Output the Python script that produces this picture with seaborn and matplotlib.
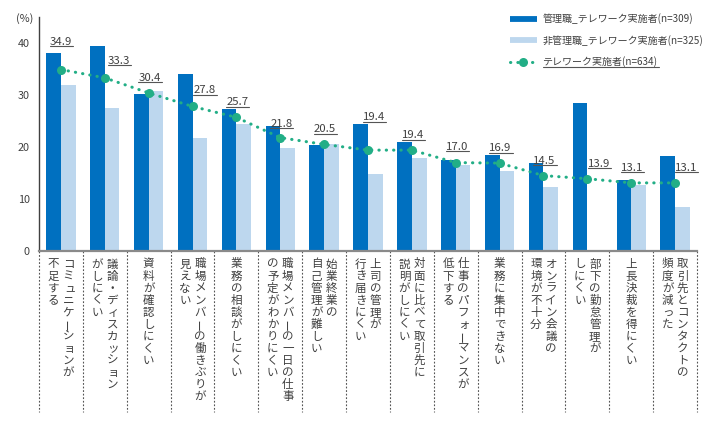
import matplotlib
matplotlib.use("Agg")
import matplotlib.pyplot as plt
import matplotlib.transforms as mtransforms
from matplotlib.lines import Line2D
import numpy as np
import pandas as pd
import seaborn as sns

# ---------------- data ----------------
categories = [
    "コミュニケーションが\n不足する",
    "議論・ディスカッション\nがしにくい",
    "資料が確認しにくい",
    "職場メンバーの働きぶりが\n見えない",
    "業務の相談がしにくい",
    "職場メンバーの一日の仕事\nの予定がわかりにくい",
    "始業終業の\n自己管理が難しい",
    "上司の管理が\n行き届きにくい",
    "対面に比べて取引先に\n説明がしにくい",
    "仕事のパフォーマンスが\n低下する",
    "業務に集中できない",
    "オンライン会議の\n環境が不十分",
    "部下の勤怠管理が\nしにくい",
    "上長決裁を得にくい",
    "取引先とコンタクトの\n頻度が減った",
]
manager = [38.0, 39.5, 30.2, 34.0, 27.3, 24.0, 20.4, 24.4, 21.0, 17.5, 18.5, 16.9, 28.5, 13.7, 18.2]
non_manager = [32.0, 27.5, 30.8, 21.8, 24.4, 19.9, 20.5, 14.8, 17.8, 16.6, 15.4, 12.3, np.nan, 12.7, 8.4]
overall = [34.9, 33.3, 30.4, 27.8, 25.7, 21.8, 20.5, 19.4, 19.4, 17.0, 16.9, 14.5, 13.9, 13.1, 13.1]
series_names = ["管理職_テレワーク実施者(n=309)", "非管理職_テレワーク実施者(n=325)", "テレワーク実施者(n=634)"]
y_ticks = [0, 10, 20, 30, 40]
y_unit = "(%)"

# ---------------- style ----------------
DARK = "#0070C0"
LIGHT = "#BDD7EE"
GREEN = "#22AE86"
TXT = "#404040"

sns.set_theme(style="white")
plt.rcParams["font.family"] = ["Noto Sans CJK JP", "DejaVu Sans"]

W, H = 720, 425
fig = plt.figure(figsize=(W / 100, H / 100), dpi=100)
ax_left, ax_right, ax_top, ax_bottom = 39, 697, 17, 251
ax = fig.add_axes([ax_left / W, 1 - ax_bottom / H, (ax_right - ax_left) / W, (ax_bottom - ax_top) / H])

df = pd.DataFrame({
    "category": categories * 2,
    "group": [series_names[0]] * len(categories) + [series_names[1]] * len(categories),
    "value": manager + non_manager,
})
sns.barplot(data=df, x="category", y="value", hue="group", order=categories,
            hue_order=series_names[:2], palette=[DARK, LIGHT], width=0.67,
            saturation=1, errorbar=None, legend=False, linewidth=0, ax=ax)

xpos = np.arange(len(categories))
ax.plot(xpos, overall, color=GREEN, lw=2.2, ls=(0, (0.1, 2.3)), dash_capstyle="round",
        marker="o", markersize=6.5, markeredgewidth=0, zorder=5)

ax.set_xlim(-0.5, len(categories) - 0.5)
ax.set_ylim(0, 45)
ax.set_yticks(y_ticks)
ax.set_yticklabels([str(t) for t in y_ticks], fontsize=7.8, color=TXT)
ax.set_xticks(xpos)
ax.set_xticklabels([])
ax.tick_params(axis="both", length=0)
ax.tick_params(axis="y", pad=6.5)
ax.set_xlabel("")
ax.set_ylabel("")
for s in ["top", "right"]:
    ax.spines[s].set_visible(False)
ax.spines["left"].set_color("#404040")
ax.spines["left"].set_linewidth(1.0)
ax.spines["bottom"].set_color("#8a8a8a")
ax.spines["bottom"].set_linewidth(1.6)
ax.grid(False)

# unit label
fig.text(25 / W, 1 - 19 / H, y_unit, ha="center", va="center", fontsize=7.8, color=TXT)

# separators below the axis
blend = mtransforms.blended_transform_factory(ax.transData, ax.transAxes)
sep_bottom = (ax_bottom - 412) / (ax_bottom - ax_top)
for b in np.arange(-0.5, len(categories), 1.0):
    ax.plot([b, b], [0, sep_bottom], transform=blend, color="#555555", lw=0.8,
            ls=(0, (1.6, 1.6)), clip_on=False)

# vertical category labels
SMALL = set("ァィゥェォャュョッ")
PX = 0.72  # points per pixel
for i, cat in enumerate(categories):
    lines = cat.split("\n")
    offs = [0.0] if len(lines) == 1 else [7.5, -7.5]
    for j, line in enumerate(lines):
        for k, ch in enumerate(line):
            ypx = 264 + 12.05 * k - ax_bottom
            dx = offs[j] + (1.2 if ch in SMALL else 0)
            ax.annotate(ch, xy=(i, 0), xycoords=("data", "axes fraction"),
                        xytext=(dx * PX, -ypx * PX), textcoords="offset points",
                        ha="center", va="center", fontsize=8.3, color=TXT,
                        rotation=90 if ch == "ー" else 0, annotation_clip=False)

# data labels (offsets in pixels: dx, dy(up))
label_offsets = [(0, 28), (14, 17), (1, 15), (12, 16), (1, 15), (1, 14), (1, 15), (6, 33),
                 (1, 15), (1, 16), (1, 15), (1, 15), (12, 15), (1, 15), (11, 15)]
underline_texts = []
for i, v in enumerate(overall):
    dx, dy = label_offsets[i]
    t = ax.annotate(f"{v:.1f}", xy=(i, v), xytext=(dx * PX, dy * PX), textcoords="offset points",
                    ha="center", va="center", fontsize=8.2, color=TXT, zorder=6)
    underline_texts.append(t)

# legend
handles = [
    Line2D([], [], color=DARK, lw=4.2, solid_capstyle="butt"),
    Line2D([], [], color=LIGHT, lw=4.2, solid_capstyle="butt"),
    Line2D([], [], color=GREEN, lw=2.2, ls=(0, (0.1, 2.3)), dash_capstyle="round",
           marker="o", markersize=6.5, markeredgewidth=0),
]
leg = fig.legend(handles, series_names, loc="upper left", bbox_to_anchor=(510 / W, 1 - 13.5 / H),
                 frameon=False, fontsize=7.2, handlelength=2.65, handletextpad=0.6,
                 labelspacing=1.05, borderpad=0, borderaxespad=0, numpoints=1)
for t in leg.get_texts():
    t.set_color(TXT)
underline_texts.append(leg.get_texts()[2])

# underline texts
fig.canvas.draw()
renderer = fig.canvas.get_renderer()
inv = fig.transFigure.inverted()
for t in underline_texts:
    bb = t.get_window_extent(renderer)
    (x0, y0), (x1, _) = inv.transform([(bb.x0, bb.y0 + 0.5), (bb.x1 + 1, bb.y0)])
    fig.add_artist(Line2D([x0, x1], [y0, y0], transform=fig.transFigure, color="#555555", lw=0.8))

fig.savefig("out.png", dpi=100)
